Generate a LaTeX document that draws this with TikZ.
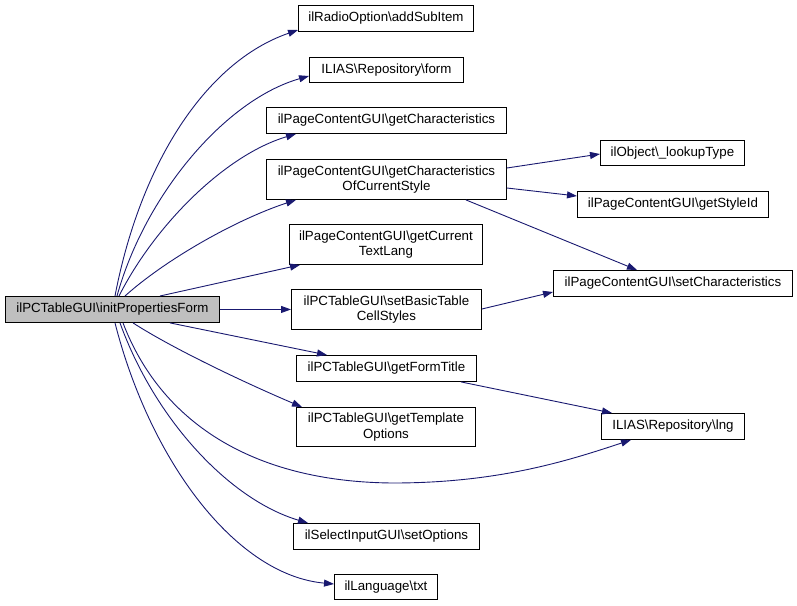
\documentclass[tikz,border=0pt]{standalone}
\usepackage{fontspec}
\setmainfont{Liberation Sans}
\usetikzlibrary{arrows.meta}
\definecolor{edgeblue}{RGB}{25,25,112}
\definecolor{mainfill}{RGB}{191,191,191}
\begin{document}
\begin{tikzpicture}[x=1pt,y=-1pt,
  box/.style={draw=black, line width=0.9pt, fill=white, anchor=north west, inner sep=0pt, align=center,
    font=\fontsize{13.3}{15.5}\selectfont},
  mainbox/.style={box, fill=mainfill},
  edge/.style={draw=edgeblue, line width=0.9pt, -{Triangle[length=10pt,width=7pt]}}]
\useasboundingbox (0,0) rectangle (797,605);

\node[mainbox, minimum width=214pt, minimum height=26pt] (main) at (5,296) {ilPCTableGUI\textbackslash initPropertiesForm};

\node[box, minimum width=175pt, minimum height=26pt] (addsub) at (298,5) {ilRadioOption\textbackslash addSubItem};
\node[box, minimum width=154pt, minimum height=25pt] (form) at (309,57) {ILIAS\textbackslash Repository\textbackslash form};
\node[box, minimum width=240pt, minimum height=26pt] (getchar) at (266,107) {ilPageContentGUI\textbackslash getCharacteristics};
\node[box, minimum width=240pt, minimum height=40pt] (getcharcur) at (266,159) {ilPageContentGUI\textbackslash getCharacteristics\\OfCurrentStyle};
\node[box, minimum width=193pt, minimum height=40pt] (textlang) at (289,224) {ilPageContentGUI\textbackslash getCurrent\\TextLang};
\node[box, minimum width=190pt, minimum height=40pt] (basic) at (291,289) {ilPCTableGUI\textbackslash setBasicTable\\CellStyles};
\node[box, minimum width=180pt, minimum height=26pt] (formtitle) at (296,355) {ilPCTableGUI\textbackslash getFormTitle};
\node[box, minimum width=179pt, minimum height=39pt] (template) at (296,407) {ilPCTableGUI\textbackslash getTemplate\\Options};
\node[box, minimum width=186pt, minimum height=26pt] (setopt) at (293,523) {ilSelectInputGUI\textbackslash setOptions};
\node[box, minimum width=103pt, minimum height=25pt] (txt) at (334,574) {ilLanguage\textbackslash txt};

\node[box, minimum width=144pt, minimum height=25pt] (lookup) at (600,140) {ilObject\textbackslash \_lookupType};
\node[box, minimum width=191pt, minimum height=26pt] (styleid) at (577,191) {ilPageContentGUI\textbackslash getStyleId};
\node[box, minimum width=239pt, minimum height=26pt] (setchar) at (553,270) {ilPageContentGUI\textbackslash setCharacteristics};
\node[box, minimum width=143pt, minimum height=26pt] (lng) at (601,413) {ILIAS\textbackslash Repository\textbackslash lng};

% edges from main
\draw[edge] ([xshift=110pt]main.north west) .. controls (140,165) and (205,62) .. ([yshift=-25pt]addsub.north west);
\draw[edge] ([xshift=112pt]main.north west) .. controls (145,195) and (225,100) .. ([yshift=-19pt]form.north west);
\draw[edge] ([xshift=114pt]main.north west) .. controls (155,225) and (225,155) .. ([xshift=30pt]getchar.south west);
\draw[edge] ([xshift=120pt]main.north west) .. controls (165,260) and (235,220) .. ([xshift=30pt]getcharcur.south west);
\draw[edge] ([xshift=155pt]main.north west) -- ([xshift=11pt]textlang.south west);
\draw[edge] (main.east) -- (basic.west);
\draw[edge] ([xshift=165pt]main.south west) -- ([xshift=31pt]formtitle.north west);
\draw[edge] ([xshift=128pt]main.south west) .. controls (175,350) and (250,385) .. ([xshift=6pt]template.north west);
\draw[edge] ([xshift=118pt]main.south west) .. controls (160,420) and (250,482) .. (393,483)
  .. controls (500,483) and (570,460) .. ([xshift=30pt]lng.south west);
\draw[edge] ([xshift=115pt]main.south west) .. controls (155,420) and (230,500) .. ([xshift=15pt]setopt.north west);
\draw[edge] ([xshift=110pt]main.south west) .. controls (150,460) and (235,575) .. ([yshift=-10pt]txt.north west);

% secondary edges
\draw[edge] ([yshift=-9pt]getcharcur.north east) -- ([yshift=-14pt]lookup.north west);
\draw[edge] ([yshift=-29pt]getcharcur.north east) -- ([yshift=-5pt]styleid.north west);
\draw[edge] ([xshift=-41pt]getcharcur.south east) -- ([xshift=84pt]setchar.north west);
\draw[edge] ([yshift=-20pt]basic.north east) -- ([yshift=-22pt]setchar.north west);
\draw[edge] ([xshift=-16pt]formtitle.south east) -- ([xshift=11pt]lng.north west);
\end{tikzpicture}
\end{document}
